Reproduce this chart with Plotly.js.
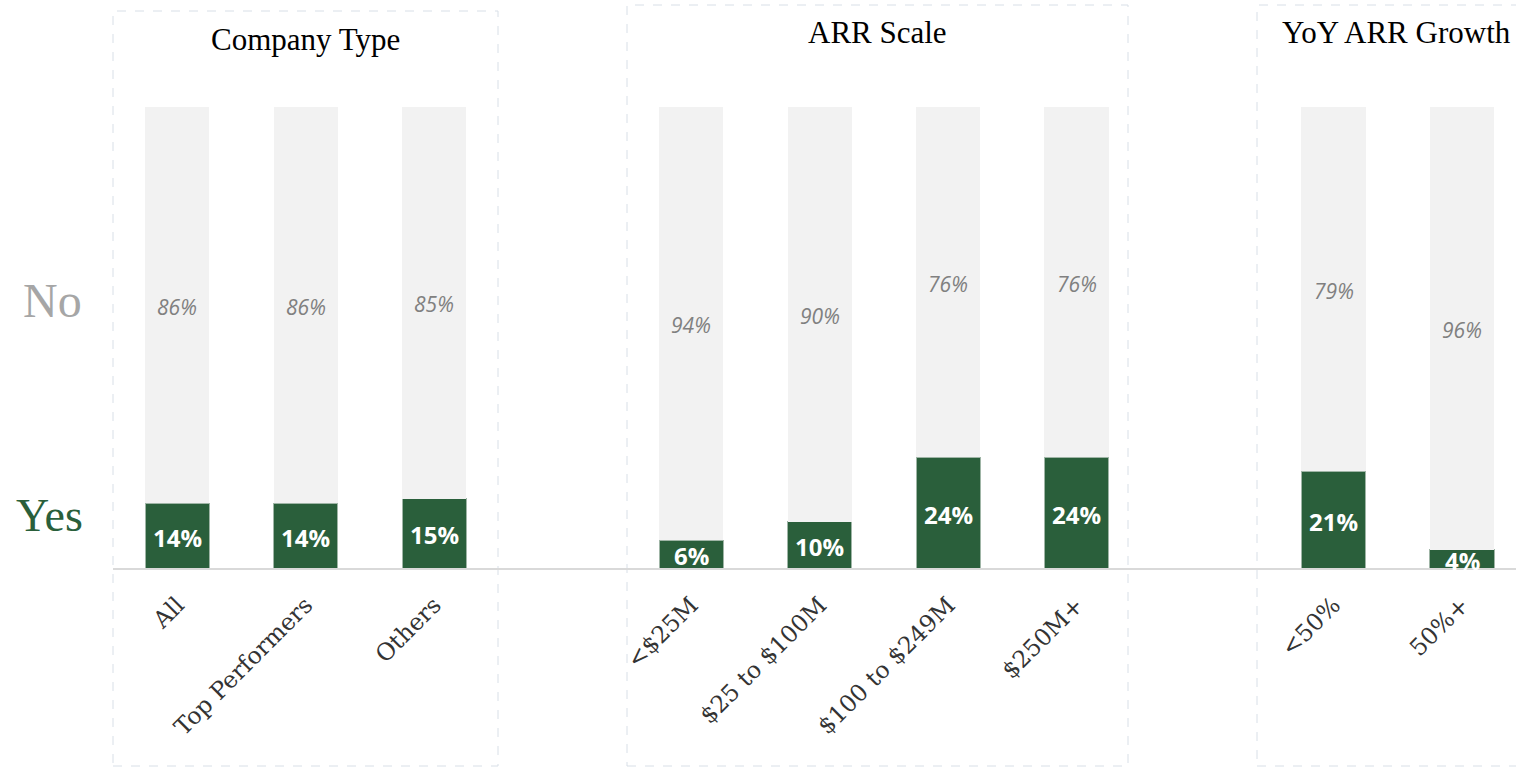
<!DOCTYPE html>
<html>
<head>
<meta charset="utf-8">
<script src="https://cdn.plot.ly/plotly-3.0.1.min.js"></script>
<style>html,body{margin:0;padding:0;background:#fff;}#chart{width:1516px;height:767px;}</style>
</head>
<body>
<div id="chart"></div>
<script>
// Data
const categories = ["All", "Top Performers", "Others", "<$25M", "$25 to $100M", "$100 to $249M", "$250M+", "<50%", "50%+"];
const categoryOrder = ["All", "Top Performers", "Others", " ", "<$25M", "$25 to $100M", "$100 to $249M", "$250M+", "  ", "<50%", "50%+"];
const yesValues = [14, 14, 15, 6, 10, 24, 24, 21, 4];
const noValues = [86, 86, 85, 94, 90, 76, 76, 79, 96];
const groupTitles = ["Company Type", "ARR Scale", "YoY ARR Growth"];
const seriesNames = ["Yes", "No"];

const GREEN = "#2a5f3b";
const GRAY = "#f2f2f2";

const traces = [
  {type: "bar", name: seriesNames[0], x: categories, y: yesValues, marker: {color: GREEN, line: {color: "#9fb5a6", width: 1}}, hoverinfo: "skip"},
  {type: "bar", name: seriesNames[1], x: categories, y: noValues, marker: {color: GRAY}, hoverinfo: "skip"}
];

const L = 113, W = 1403, B = 568, H = 461;
const px = v => (v - L) / W;
const py = v => (B - v) / H;
const boxLine = {color: "#d8dfe7", width: 1, dash: "dash"};
const ann = (text, x, y, size, color) => ({text: text, xref: "paper", yref: "paper", x: px(x), y: py(y),
  xanchor: "center", yanchor: "middle", showarrow: false, font: {family: "Liberation Serif", size: size, color: color}});

const yesAnn = categories.map((c, i) => ({text: yesValues[i] + "%", xref: "x", yref: "y", x: c, y: yesValues[i] / 2,
  xanchor: "center", yanchor: "middle", yshift: -1.5, showarrow: false,
  font: {family: "Open Sans", size: 24, color: "#ffffff", weight: "bold"}}));
const noAnn = categories.map((c, i) => ({text: noValues[i] + "%", xref: "x", yref: "y", x: c, y: yesValues[i] + noValues[i] / 2,
  xanchor: "center", yanchor: "middle", yshift: -1.5, showarrow: false,
  font: {family: "Open Sans", size: 21, color: "#808080", style: "italic"}}));

const layout = {
  width: 1516, height: 767,
  margin: {l: L, r: 0, t: 107, b: 199},
  paper_bgcolor: "#ffffff", plot_bgcolor: "rgba(0,0,0,0)",
  barmode: "stack", bargap: 0.5,
  showlegend: false,
  xaxis: {
    type: "category", categoryorder: "array", categoryarray: categoryOrder,
    range: [-0.5, 10.42], tickangle: -45, showgrid: false, zeroline: false,
    showline: true, linecolor: "#d9d9d9", linewidth: 2, ticks: "",
    tickfont: {family: "DejaVu Serif", size: 23.5, color: "#333333"}, ticklabelstandoff: 12
  },
  yaxis: {range: [0, 100], visible: false, showgrid: false, zeroline: false, fixedrange: true},
  shapes: [
    {type: "rect", xref: "paper", yref: "paper", x0: px(113), x1: px(498), y0: py(766), y1: py(11), line: boxLine, layer: "below"},
    {type: "rect", xref: "paper", yref: "paper", x0: px(627), x1: px(1128), y0: py(766), y1: py(5), line: boxLine, layer: "below"},
    {type: "rect", xref: "paper", yref: "paper", x0: px(1257), x1: px(1530), y0: py(766), y1: py(5), line: boxLine, layer: "below"}
  ],
  annotations: [
    ann(groupTitles[0], 305, 40, 31, "#000000"),
    ann(groupTitles[1], 877, 33, 31, "#000000"),
    ann(groupTitles[2], 1396, 33, 31, "#000000"),
    ann(seriesNames[1], 52, 300, 48, "#a6a6a6"),
    ann(seriesNames[0], 49, 515, 46, GREEN)
  ].concat(yesAnn, noAnn)
};

Plotly.newPlot("chart", traces, layout, {displayModeBar: false, staticPlot: true});
</script>
</body>
</html>
